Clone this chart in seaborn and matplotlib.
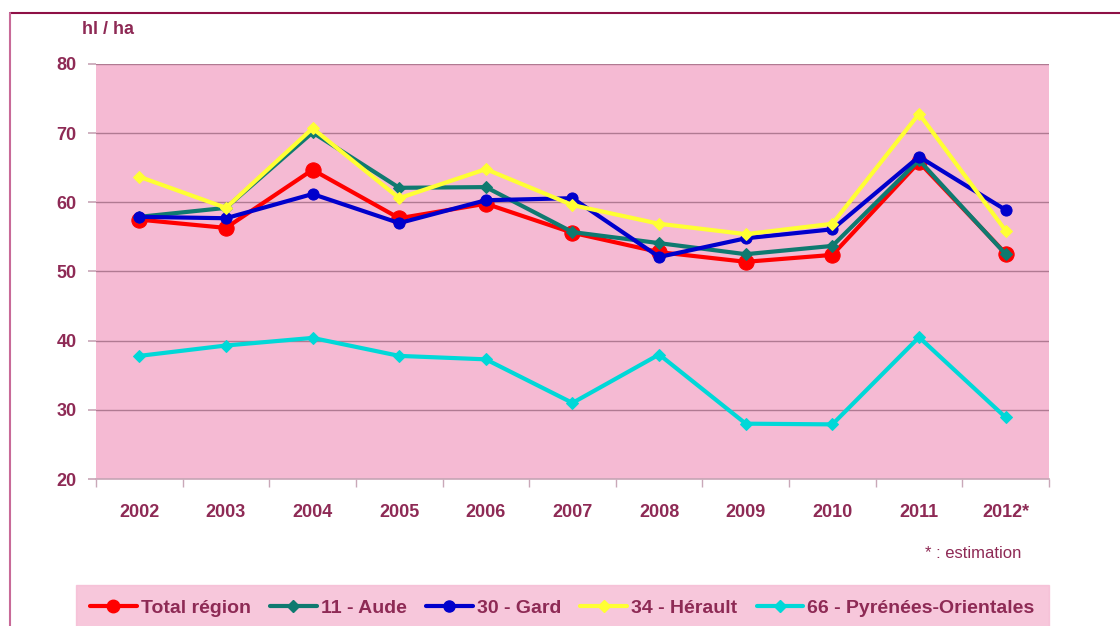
import matplotlib
matplotlib.use("Agg")
import matplotlib.pyplot as plt
from matplotlib.lines import Line2D
import pandas as pd
import seaborn as sns

# Rendements (hl/ha) par département
annees = ['2002', '2003', '2004', '2005', '2006', '2007', '2008', '2009', '2010', '2011', '2012*']
total_region = [57.5, 56.3, 64.7, 57.7, 59.8, 55.6, 52.8, 51.4, 52.4, 65.8, 52.6]
aude = [57.9, 59.2, 70.1, 62.1, 62.2, 55.7, 54.1, 52.5, 53.7, 66.1, 52.5]
gard = [57.9, 57.7, 61.2, 57.0, 60.3, 60.6, 52.1, 54.8, 56.1, 66.6, 58.9]
herault = [63.7, 59.2, 70.7, 60.6, 64.8, 59.6, 56.9, 55.4, 56.9, 72.8, 55.9]
pyrenees = [37.8, 39.3, 40.4, 37.8, 37.3, 31.0, 38.0, 28.0, 27.9, 40.5, 28.9]

series = [
    ('Total région', total_region, '#FF0000', 'o', 11),
    ('11 - Aude', aude, '#0F7A70', 'D', 6),
    ('30 - Gard', gard, '#0000CC', 'o', 8),
    ('34 - Hérault', herault, '#FFFF33', 'D', 6),
    ('66 - Pyrénées-Orientales', pyrenees, '#00D8D8', 'D', 6),
]

sns.set_theme(style="white")
plt.rcParams['font.family'] = ['Liberation Sans', 'DejaVu Sans']

rose = '#F5BAD3'
texte = '#8E2A55'

fig = plt.figure(figsize=(11.2, 6.26), dpi=100)
ax = fig.add_axes([0.0857, 0.2348, 0.8509, 0.663])
ax.set_facecolor(rose)

for nom, valeurs, couleur, marqueur, taille in series:
    df = pd.DataFrame({'Année': annees, 'Rendement': valeurs})
    sns.lineplot(data=df, x='Année', y='Rendement', ax=ax, color=couleur,
                 linewidth=3, marker=marqueur, markersize=taille,
                 markeredgecolor=couleur, label=nom, sort=False, zorder=3)

ax.set_xlim(-0.5, 10.5)
ax.set_ylim(20, 80)
ax.set_yticks(range(20, 81, 10))
ax.yaxis.grid(True, color='#B07A92', linewidth=1)
ax.set_axisbelow(True)
ax.set_xlabel('')
ax.set_ylabel('')
for s in ['top', 'right', 'left']:
    ax.spines[s].set_visible(False)
ax.spines['bottom'].set_color('#C9A8B8')

ax.set_xticks([i - 0.5 for i in range(12)], minor=True)
ax.tick_params(axis='x', which='minor', length=6, color='#C9A8B8', bottom=True)
ax.tick_params(axis='x', which='major', length=0, pad=18, labelsize=13, labelcolor=texte)
ax.tick_params(axis='y', length=6, color='#C9A8B8', left=True, labelsize=13,
               labelcolor=texte, pad=8)
for lab in ax.get_xticklabels() + ax.get_yticklabels():
    lab.set_fontweight('bold')

ax.legend_.remove()
fig.text(0.073, 0.945, 'hl / ha', fontsize=13, fontweight='bold', color=texte)
fig.text(0.912, 0.108, '* : estimation', fontsize=12, color=texte, ha='right')

handles = [Line2D([], [], color=c, linewidth=3, marker=m, markersize=min(t, 9),
                  markeredgecolor=c) for _, _, c, m, t in series]
leg = fig.legend(handles, [s[0] for s in series], loc='upper center',
                 bbox_to_anchor=(0.502, 0.0655), ncol=5, frameon=True,
                 fancybox=False, fontsize=14, handlelength=2.4,
                 handletextpad=0.2, columnspacing=1.0, borderpad=0.75,
                 borderaxespad=0.0)
leg.get_frame().set_facecolor(rose)
leg.get_frame().set_edgecolor(rose)
for t in leg.get_texts():
    t.set_color(texte)
    t.set_fontweight('bold')

# cadre du graphique
fig.add_artist(Line2D([0.009, 1.0], [0.979, 0.979], color='#8E1046', linewidth=1.5))
fig.add_artist(Line2D([0.009, 0.009], [0.0, 0.979], color='#C86A98', linewidth=1.5))

fig.savefig('out.png', dpi=100, facecolor='white')
